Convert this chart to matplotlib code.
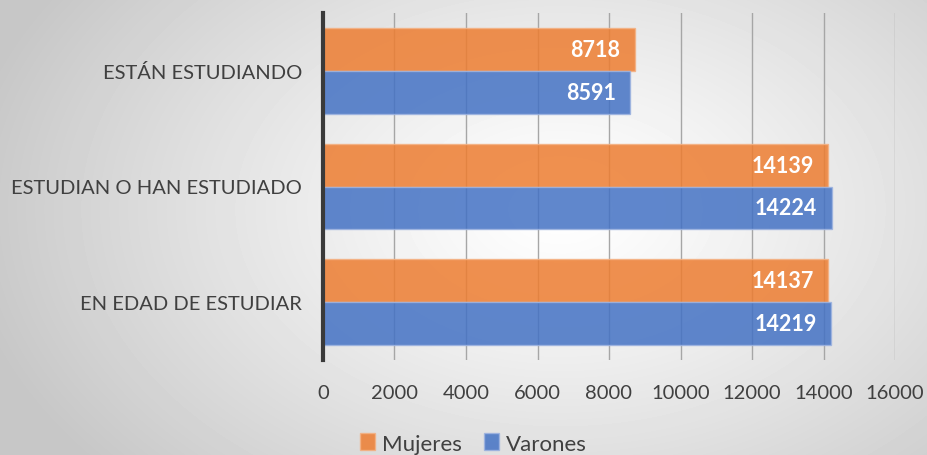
import matplotlib
matplotlib.use('Agg')
import numpy as np
import matplotlib.pyplot as plt

categories = ["ESTÁN ESTUDIANDO", "ESTUDIAN O HAN ESTUDIADO", "EN EDAD DE ESTUDIAR"]
mujeres = [8718, 14139, 14137]
varones = [8591, 14224, 14219]
xticks = [0, 2000, 4000, 6000, 8000, 10000, 12000, 14000, 16000]

plt.rcParams['font.family'] = ['Lato', 'DejaVu Sans']

fig = plt.figure(figsize=(9.28, 4.56), dpi=100)

# radial gradient background
bg = fig.add_axes([0, 0, 1, 1], zorder=-10)
yy, xx = np.mgrid[0:456, 0:928]
r = np.sqrt(((xx - 560) / 600.0) ** 2 + ((yy - 210) / 400.0) ** 2)
shade = 1.0 - 0.22 * np.clip(r, 0, 1) ** 1.2
bg.imshow(shade, cmap='gray', vmin=0, vmax=1, aspect='auto', extent=[0, 1, 0, 1])
bg.axis('off')

ax = fig.add_axes([323 / 928, 1 - 361 / 456, (895 - 323) / 928, (361 - 14) / 456])
ax.patch.set_alpha(0)

y = np.arange(len(categories))
h = 0.37
b1 = ax.barh(y - h / 2, mujeres, height=h, color='#ED7D31', alpha=0.85,
             edgecolor='#F4B183', linewidth=1, label='Mujeres', zorder=3)
b2 = ax.barh(y + h / 2, varones, height=h, color='#4472C4', alpha=0.85,
             edgecolor='#9DB3E0', linewidth=1, label='Varones', zorder=3)

for bars in (b1, b2):
    for bar in bars:
        w = bar.get_width()
        ax.text(w - 400, bar.get_y() + bar.get_height() / 2, str(int(w)),
                ha='right', va='center', color='white', fontsize=15.5,
                fontweight='bold', zorder=4)

ax.set_xlim(0, 16000)
ax.set_ylim(2.5, -0.5)
ax.set_xticks(xticks)
ax.set_xticklabels([str(t) for t in xticks], fontsize=14.5, color='#404040')
ax.set_yticks(y)
ax.set_yticklabels(categories, fontsize=14.5, color='#404040')
ax.tick_params(length=0)
ax.tick_params(axis='x', pad=17)
ax.tick_params(axis='y', pad=15)
ax.grid(axis='x', color='#A6A6A6', linewidth=1, zorder=0)
ax.set_axisbelow(True)
for s in ['top', 'right', 'bottom']:
    ax.spines[s].set_visible(False)
ax.spines['left'].set_linewidth(3)
ax.spines['left'].set_color('#3A3A3A')
ax.spines['left'].set_zorder(5)

fig.legend(handles=[b1, b2], loc='center', bbox_to_anchor=(0.51, 0.025),
           ncol=2, frameon=False, fontsize=16, handlelength=0.7,
           handleheight=0.8, handletextpad=0.3, columnspacing=1.0,
           labelcolor='#404040')

fig.savefig('out.png', dpi=100)
